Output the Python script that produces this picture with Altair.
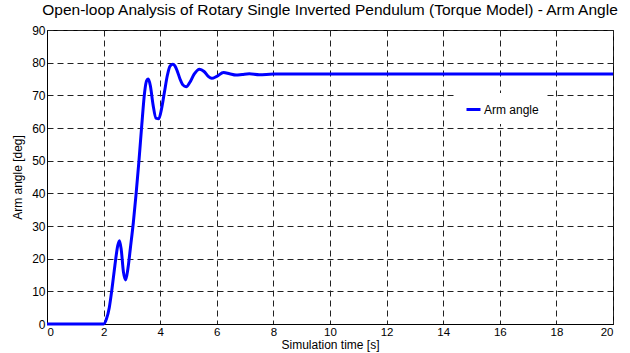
import altair as alt
import pandas as pd

time_s = [0, 1.0, 2.0, 2.1, 2.2, 2.3, 2.4, 2.5, 2.56, 2.62, 2.7, 2.78, 2.86, 2.95,
          3.05, 3.15, 3.25, 3.35, 3.45, 3.52, 3.58, 3.65, 3.75, 3.85, 3.95, 4.05,
          4.15, 4.25, 4.35, 4.45, 4.52, 4.6, 4.7, 4.8, 4.92, 5.05, 5.2, 5.39, 5.55,
          5.7, 5.82, 6.0, 6.24, 6.45, 6.68, 6.9, 7.15, 7.5, 8.0, 10.0, 15.0, 20.0]
arm_angle = [0, 0, 0, 1.5, 5, 11, 18, 24, 25.5, 23, 16, 13.5, 17, 23.5,
             31, 40, 50, 61, 71, 74.5, 75, 73, 67, 63, 62.8, 66,
             71, 76, 79, 79.5, 79, 77.5, 75, 73.2, 72.6, 74, 76.5, 78, 77.3,
             75.8, 75.2, 75.8, 77, 76.6, 76.2, 76.4, 76.6, 76.3, 76.5, 76.5, 76.5, 76.5]
series_name = "Arm angle"
x_ticks = list(range(0, 21, 2))
y_ticks = list(range(0, 91, 10))

df = pd.DataFrame({"t": time_s, "angle": arm_angle, "series": series_name})

FONT = "Liberation Sans"

chart = alt.Chart(df).mark_line(strokeWidth=3, interpolate="monotone").encode(
    x=alt.X("t:Q", scale=alt.Scale(domain=[0, 20], nice=False),
            axis=alt.Axis(title="Simulation time [s]", values=x_ticks, format="d",
                          labelPadding=2, titlePadding=2, labelFontSize=11.5)),
    y=alt.Y("angle:Q", scale=alt.Scale(domain=[0, 90], nice=False),
            axis=alt.Axis(title="Arm angle [deg]", values=y_ticks, format="d",
                          labelPadding=2, titlePadding=7)),
    color=alt.Color("series:N", scale=alt.Scale(range=["#0000ff"]),
                    legend=alt.Legend(title=None, orient="none", legendX=410, legendY=63,
                                      fillColor="white", padding=8,
                                      symbolType="stroke", symbolSize=196,
                                      symbolStrokeWidth=3, labelFontSize=12,
                                      labelFont=FONT, labelColor="black",
                                      labelOffset=2)),
).properties(
    width=566, height=294,
    background="white",
    title=alt.TitleParams("Open-loop Analysis of Rotary Single Inverted Pendulum (Torque Model) - Arm Angle",
                          fontSize=15.5, fontWeight="normal", font=FONT, color="black",
                          anchor="middle", offset=6),
    autosize=alt.AutoSizeParams(type="none"),
    padding={"left": 47, "top": 30, "right": 17, "bottom": 29},
).configure_axis(
    labelFont=FONT, titleFont=FONT, labelFontSize=12, titleFontSize=12,
    labelColor="black", titleColor="black", titleFontWeight="normal",
    domainColor="black", domainWidth=1, ticks=False,
    grid=True, gridColor="#222222", gridDash=[6, 4], gridWidth=1, gridOpacity=1,
).configure_view(
    stroke="black", strokeWidth=1,
)

chart.save("out.html", embed_options={"renderer": "svg", "actions": False})
